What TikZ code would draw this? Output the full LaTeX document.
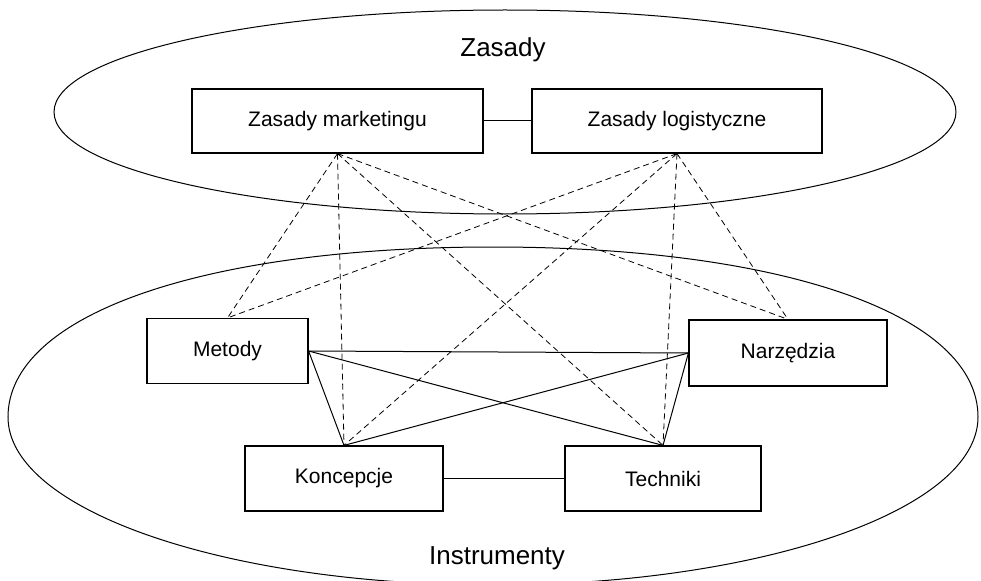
\documentclass[tikz,border=0pt]{standalone}
\usepackage{fontspec}
\setmainfont{Liberation Sans}
\tikzset{
  box/.style={draw, line width=0.9pt, rectangle, font=\fontsize{15.75}{19}\selectfont},
  title/.style={font=\fontsize{19.5}{23}\selectfont},
  link/.style={line width=0.75pt},
  dlink/.style={line width=0.6pt, dash pattern=on 4.5pt off 3pt}
}

\begin{document}
\begin{tikzpicture}[x=0.75pt,y=0.75pt,yscale=-1,xscale=1]
\useasboundingbox (0,0) rectangle (981,581);

%Shape: Ellipse
\draw [line width=0.75pt] (505,112) ellipse (451 and 102);
%Shape: Free Drawing
\draw [line width=0.75pt] (8,417) .. controls (8,315) and (202,247) .. (493,247)
  .. controls (784,247) and (978,315) .. (978,417)
  .. controls (978,510) and (761,585) .. (493,585)
  .. controls (225,585) and (8,510) .. (8,417) -- cycle;

%Text
\node [title] (zasady) at (503,50) {Zasady};
\node [title] (instr) at (497,558) {Instrumenty};

%Shape: Rectangle
\node [box, minimum width=218.25pt, minimum height=48pt] (zm) at (337.5,121) {Zasady marketingu};
\node [box, minimum width=217.5pt, minimum height=48pt] (zl) at (677,121) {Zasady logistyczne};
\node [box, minimum width=120.75pt, minimum height=48.75pt] (met) at (227.5,351) {Metody};
\node [box, minimum width=148.5pt, minimum height=49.5pt] (narz) at (788,353) {Narzędzia};
\node [box, minimum width=148.5pt, minimum height=48.75pt] (konc) at (344,478.5) {Koncepcje};
\node [box, minimum width=147pt, minimum height=48.75pt] (tech) at (663,478.5) {Techniki};

%Straight Lines
\draw [link] (zm) -- (zl);
\draw [link] (konc) -- (tech);
\draw [link] (met.east) -- (narz.west);
\draw [link] (met.east) -- (konc.north);
\draw [link] (met.east) -- (tech.north);
\draw [link] (narz.west) -- (konc.north);
\draw [link] (narz.west) -- (tech.north);

%Dashed Lines
\foreach \s in {zm,zl}
  \foreach \t in {met,konc,tech,narz}
    \draw [dlink] (\s.south) -- (\t.north);

\end{tikzpicture}
\end{document}
